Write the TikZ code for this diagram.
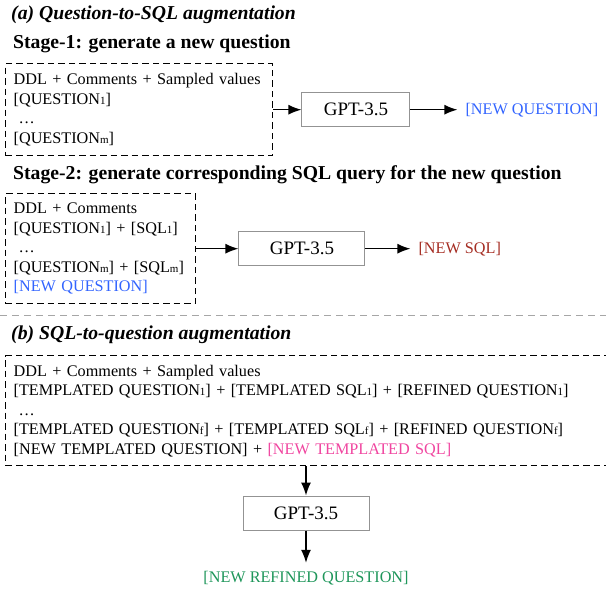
\documentclass[tikz,border=0pt]{standalone}
\usepackage{fontspec}
\setmainfont{Liberation Serif}
\usepackage{xcolor}
\usetikzlibrary{positioning,arrows.meta}

\definecolor{newq}{RGB}{50,100,255}
\definecolor{newsql}{RGB}{165,45,35}
\definecolor{newtsql}{RGB}{240,70,160}
\definecolor{newref}{RGB}{30,150,90}
\newcommand{\ix}[1]{\raisebox{-0.3pt}{\fontsize{11}{11}\selectfont #1}}

\begin{document}
\begin{tikzpicture}[x=1pt,y=-1pt]
				\tikzstyle{common} = [inner sep=0, font=\fontsize{16.2}{19.5}\selectfont]
				\tikzstyle{title} = [anchor=west, inner sep=0, font=\fontsize{19.7}{22}\selectfont\bfseries]
				\tikzstyle{context} = [common, draw, dash pattern=on 6.5pt off 4pt, line width=1.4pt, anchor=north west, align=left, inner xsep=8pt]
				\tikzstyle{llm} = [draw=gray!85, line width=1pt, minimum height=34pt, font=\fontsize{19}{22}\selectfont]
				\tikzstyle{result} = [common, inner sep=8pt]
				\tikzstyle{line} = [draw, line width=1.4pt, -{Latex[length=13pt,width=10pt]}]
				\tikzstyle{sep} = [draw=gray!70, line width=1pt, dash pattern=on 7pt off 5pt]
				\useasboundingbox (0,0) rectangle (606,590);
				\clip (0,0) rectangle (606,590);
				\node[title, font=\fontsize{19.7}{22}\selectfont\bfseries\itshape] (headA) at (11,15) {(a) Question-to-SQL augmentation};
				\node[title] (stage1) at (13,44) {Stage-1: generate a new question};
				\node[context, text width=251pt, minimum height=92pt] (ctx1) at (5,63) {\mbox{DDL + Comments + Sampled values}\\ {[}QUESTION\ix{1}]\\ \hspace*{5pt}\ldots\\ {[}QUESTION\ix{m}]};
				\node[llm, minimum width=108pt, right=28pt of ctx1] (llm1) {GPT-3.5};
				\node[result, text=newq, right=47pt of llm1] (out1) {[NEW QUESTION]};

				\node[title] (stage2) at (13,175) {Stage-2: generate corresponding SQL query for the new question};
				\node[context, text width=174pt, minimum height=110pt] (ctx2) at (5,193) {DDL + Comments\\ {[}QUESTION\ix{1}] + [SQL\ix{1}]\\ \hspace*{5pt}\ldots\\ {[}QUESTION\ix{m}] + [SQL\ix{m}]\\ \textcolor{newq}{[NEW QUESTION]}};
				\node[llm, minimum width=126pt, right=42pt of ctx2] (llm2) {GPT-3.5};
				\node[result, text=newsql, right=45pt of llm2] (out2) {[NEW SQL]};

				\coordinate (sepL) at (0,315);
				\coordinate (sepR) at (606,315);
				\node[title, font=\fontsize{19.7}{22}\selectfont\bfseries\itshape] (headB) at (11,335) {(b) SQL-to-question augmentation};
				\node[context, text width=604pt, minimum height=110pt] (ctx3) at (5,355) {DDL + Comments + Sampled values\\ {[}TEMPLATED QUESTION\ix{1}] + [TEMPLATED SQL\ix{1}] + [REFINED QUESTION\ix{1}]\\ \hspace*{5pt}\ldots\\ {[}TEMPLATED QUESTION\ix{f}] + [TEMPLATED SQL\ix{f}] + [REFINED QUESTION\ix{f}]\\ {[}NEW TEMPLATED QUESTION] + \textcolor{newtsql}{[NEW TEMPLATED SQL]}};
				\node[llm, minimum width=126pt] (llm3) at (306,513) {GPT-3.5};
				\node[result, text=newref] (out3) at (306,578) {[NEW REFINED QUESTION]};

				\draw[line] (ctx1) -- (llm1);
				\draw[line] (llm1) -- (out1);
				\draw[line] (ctx2) -- (llm2);
				\draw[line] (llm2) -- (out2);
				\draw[sep] (sepL) -- (sepR);
				\draw[line] (llm3 |- ctx3.south) -- (llm3);
				\draw[line] (llm3) -- (out3);
\end{tikzpicture}
\end{document}
